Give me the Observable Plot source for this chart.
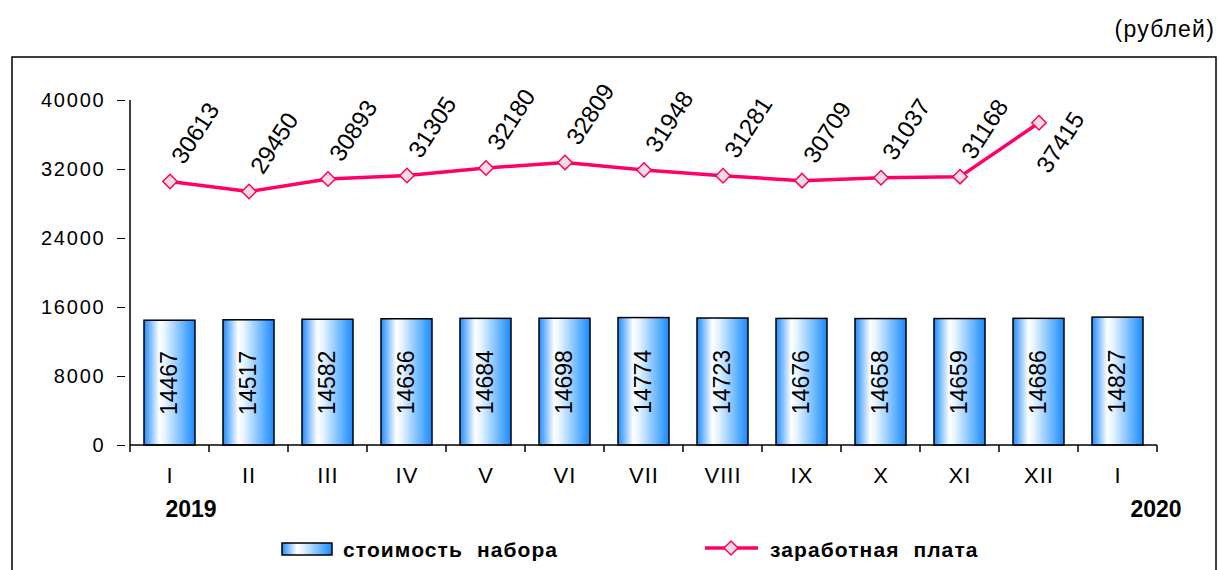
<!DOCTYPE html>
<html><head><meta charset="utf-8">
<script src="https://cdn.jsdelivr.net/npm/d3@7"></script>
<script src="https://cdn.jsdelivr.net/npm/@observablehq/plot@0.6"></script>
<style>
body{margin:0;background:#fff;color:#000;}
#chart svg{display:block;}
</style></head><body><div id="chart"></div>
<script>
const months = ["I","II","III","IV","V","VI","VII","VIII","IX","X","XI","XII","I"];
const yearLabels = ["2019","2020"];
const basketCost = [14467,14517,14582,14636,14684,14698,14774,14723,14676,14658,14659,14686,14827];
const wages = [30613,29450,30893,31305,32180,32809,31948,31281,30709,31037,31168,37415];
const yTicks = [0,8000,16000,24000,32000,40000];
const seriesNames = ["стоимость  набора","заработная  плата"];
const unitLabel = "(рублей)";

const idx = months.map((_, i) => i);
const bars = idx.map(i => ({i, v: basketCost[i]}));
const line = wages.map((v, i) => ({i, v}));

const PINK = "#ff0066";
const MARK_FILL = "#f3dde1";
const FONT = "'Liberation Sans', Arial, sans-serif";

// axis lines and boundary ticks drawn with the plot's own scales
const axesMark = (index, {x, y}, values, dim) => {
  const g = d3.create("svg:g").attr("stroke", "black").attr("stroke-width", 1.5).attr("fill", "none");
  const step = x(1) - x(0);
  const x0 = x(0), x1 = x(idx.length - 1) + step;
  const yb = y(0), yt = y(yTicks[yTicks.length - 1]);
  g.append("line").attr("x1", x0).attr("x2", x0).attr("y1", yt).attr("y2", yb);
  g.append("line").attr("x1", x0).attr("x2", x1).attr("y1", yb).attr("y2", yb);
  for (let k = 0; k <= idx.length; k++) {
    const xx = x0 + k * step;
    g.append("line").attr("x1", xx).attr("x2", xx).attr("y1", yb).attr("y2", yb + 7);
  }
  return g.node();
};

const chart = Plot.plot({
  width: 1220,
  height: 570,
  marginLeft: 125,
  marginRight: 58,
  marginTop: 100,
  marginBottom: 125,
  style: {fontFamily: FONT, fontSize: "20px", color: "black", background: "white", overflow: "visible"},
  x: {type: "band", domain: idx, padding: 0, label: null},
  y: {domain: [0, 40000], label: null},
  marks: [
    Plot.barY(bars, {x: "i", y: "v", fill: "url(#barGrad)", stroke: "black", strokeWidth: 1.5, insetLeft: 14, insetRight: 14}),
    Plot.text(bars, {x: "i", y: d => d.v / 2, text: d => String(d.v), rotate: -90, fontSize: 23, textAnchor: "middle", fill: "black"}),
    axesMark,
    Plot.axisY(yTicks, {tickSize: 8, tickPadding: 12, fontSize: 20, label: null, tickFormat: d => String(d)}),
    Plot.axisX({tickSize: 0, tickPadding: 22, fontSize: 22, label: null, tickFormat: i => months[i]}),
    Plot.line(line, {x: "i", y: "v", stroke: PINK, strokeWidth: 3.5}),
    Plot.dot(line, {x: "i", y: "v", symbol: "diamond2", r: 6.5, fill: MARK_FILL, stroke: PINK, strokeWidth: 1.5}),
    Plot.text(line.slice(0, wages.length - 1), {x: "i", y: "v", text: d => String(d.v), rotate: -57, textAnchor: "start", lineAnchor: "bottom", dx: 14, dy: -16, fontSize: 24, fill: "black"}),
    Plot.text(line.slice(wages.length - 1), {x: "i", y: "v", text: d => String(d.v), rotate: -57, textAnchor: "start", lineAnchor: "bottom", dx: 10, dy: 52, fontSize: 24, fill: "black"})
  ]
});

const svg = d3.select(chart);
const defs = svg.insert("defs", ":first-child");
const grad = defs.append("linearGradient").attr("id", "barGrad").attr("x1", "0%").attr("x2", "100%").attr("y1", "0%").attr("y2", "0%");
[["0%", "#1f8cff"], ["30%", "#ffffff"], ["42%", "#e4f2ff"], ["75%", "#6fb9ff"], ["100%", "#1a8aff"]]
  .forEach(([o, c]) => grad.append("stop").attr("offset", o).attr("stop-color", c));

svg.selectAll('g[aria-label="y-axis tick label"]').attr("letter-spacing", "1.8px");
svg.selectAll('g[aria-label="x-axis tick label"]').attr("letter-spacing", "1px");

// outer frame
svg.insert("rect", "defs + *").attr("x", 12).attr("y", 57).attr("width", 1204).attr("height", 600)
  .attr("fill", "none").attr("stroke", "black").attr("stroke-width", 1.5);

// unit label
svg.append("text").attr("x", 1215).attr("y", 37).attr("text-anchor", "end")
  .attr("font-size", 23).attr("letter-spacing", "1.2px").attr("fill", "black").text(unitLabel);

// year labels
svg.append("text").attr("x", 191).attr("y", 517).attr("text-anchor", "middle")
  .attr("font-size", 23).attr("font-weight", "bold").attr("fill", "black").text(yearLabels[0]);
svg.append("text").attr("x", 1156).attr("y", 517).attr("text-anchor", "middle")
  .attr("font-size", 23).attr("font-weight", "bold").attr("fill", "black").text(yearLabels[1]);

// legend
const lg = svg.append("g").attr("font-size", 21).attr("font-weight", "bold").attr("fill", "black")
  .attr("text-anchor", "start").style("white-space", "pre");
lg.append("rect").attr("x", 282).attr("y", 543).attr("width", 50).attr("height", 12)
  .attr("fill", "url(#barGrad)").attr("stroke", "black").attr("stroke-width", 1.5);
lg.append("text").attr("x", 343).attr("y", 557).attr("text-anchor", "start").attr("letter-spacing", "1.1px").text(seriesNames[0]);
lg.append("line").attr("x1", 705).attr("x2", 758).attr("y1", 548).attr("y2", 548)
  .attr("stroke", PINK).attr("stroke-width", 3.5);
lg.append("path").attr("d", "M731,541L738,548L731,555L724,548Z").attr("fill", MARK_FILL).attr("stroke", PINK).attr("stroke-width", 1.5);
lg.append("text").attr("x", 770).attr("y", 557).attr("text-anchor", "start").attr("letter-spacing", "1.1px").text(seriesNames[1]);

document.getElementById("chart").appendChild(chart);
</script>
</body></html>
